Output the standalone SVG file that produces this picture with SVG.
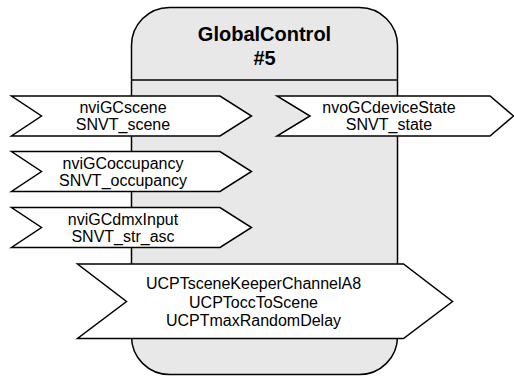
<svg xmlns="http://www.w3.org/2000/svg" width="514" height="376" viewBox="0 0 514 376">
<style>
.body{fill:#e8e8e8;stroke:#000;stroke-width:1.5}
.flag{fill:#fff;stroke:#000;stroke-width:1.5;stroke-linejoin:miter}
.t{font-family:"Liberation Sans",Arial,sans-serif;font-size:16px;fill:#000;text-anchor:middle}
.h{font-family:"Liberation Sans",Arial,sans-serif;font-size:20px;font-weight:bold;fill:#000;text-anchor:middle}
</style>
<g id="GlobalControl">
<path class="body" d="M131.5,46 A38,38 0 0 1 169.5,7.5 L359.5,7.5 A38,38 0 0 1 397.5,46 L397.5,336.5 A38,38 0 0 1 359.5,374.5 L169.5,374.5 A38,38 0 0 1 131.5,336.5 Z"/>
<line x1="131.5" y1="80" x2="397.5" y2="80" stroke="#000" stroke-width="1.5"/>
<text class="h" x="264.5" y="41">GlobalControl</text>
<text class="h" x="264.5" y="65">#5</text>
</g>
<g id="connectors"></g>
<g id="nviGCscene">
<polygon class="flag" points="11.5,96 220,96 251.5,116 220,136 11.5,136 41.5,116"/>
<text class="t" x="123" y="113">nviGCscene</text>
<text class="t" x="123" y="130">SNVT_scene</text>
</g>
<g id="nviGCoccupancy">
<polygon class="flag" points="11.5,151.5 220,151.5 251.5,171.5 220,191.5 11.5,191.5 41.5,171.5"/>
<text class="t" x="123" y="168.5">nviGCoccupancy</text>
<text class="t" x="123" y="185.5">SNVT_occupancy</text>
</g>
<g id="nviGCdmxInput">
<polygon class="flag" points="11.5,207.5 220,207.5 251.5,227.5 220,247.5 11.5,247.5 41.5,227.5"/>
<text class="t" x="123" y="224.5">nviGCdmxInput</text>
<text class="t" x="123" y="241.5">SNVT_str_asc</text>
</g>
<g id="nvoGCdeviceState">
<polygon class="flag" points="277,96 490,96 513.5,116 490,136 277,136 310,116"/>
<text class="t" x="389" y="113">nvoGCdeviceState</text>
<text class="t" x="389" y="130">SNVT_state</text>
</g>
<g id="UCPT">
<polygon class="flag" points="77.5,264 403.5,264 452.5,301.5 403.5,338.5 77.5,338.5 126.5,301.5"/>
<text class="t" x="253.5" y="289">UCPTsceneKeeperChannelA8</text>
<text class="t" x="253.5" y="307.5">UCPToccToScene</text>
<text class="t" x="253.5" y="326">UCPTmaxRandomDelay</text>
</g>
</svg>
